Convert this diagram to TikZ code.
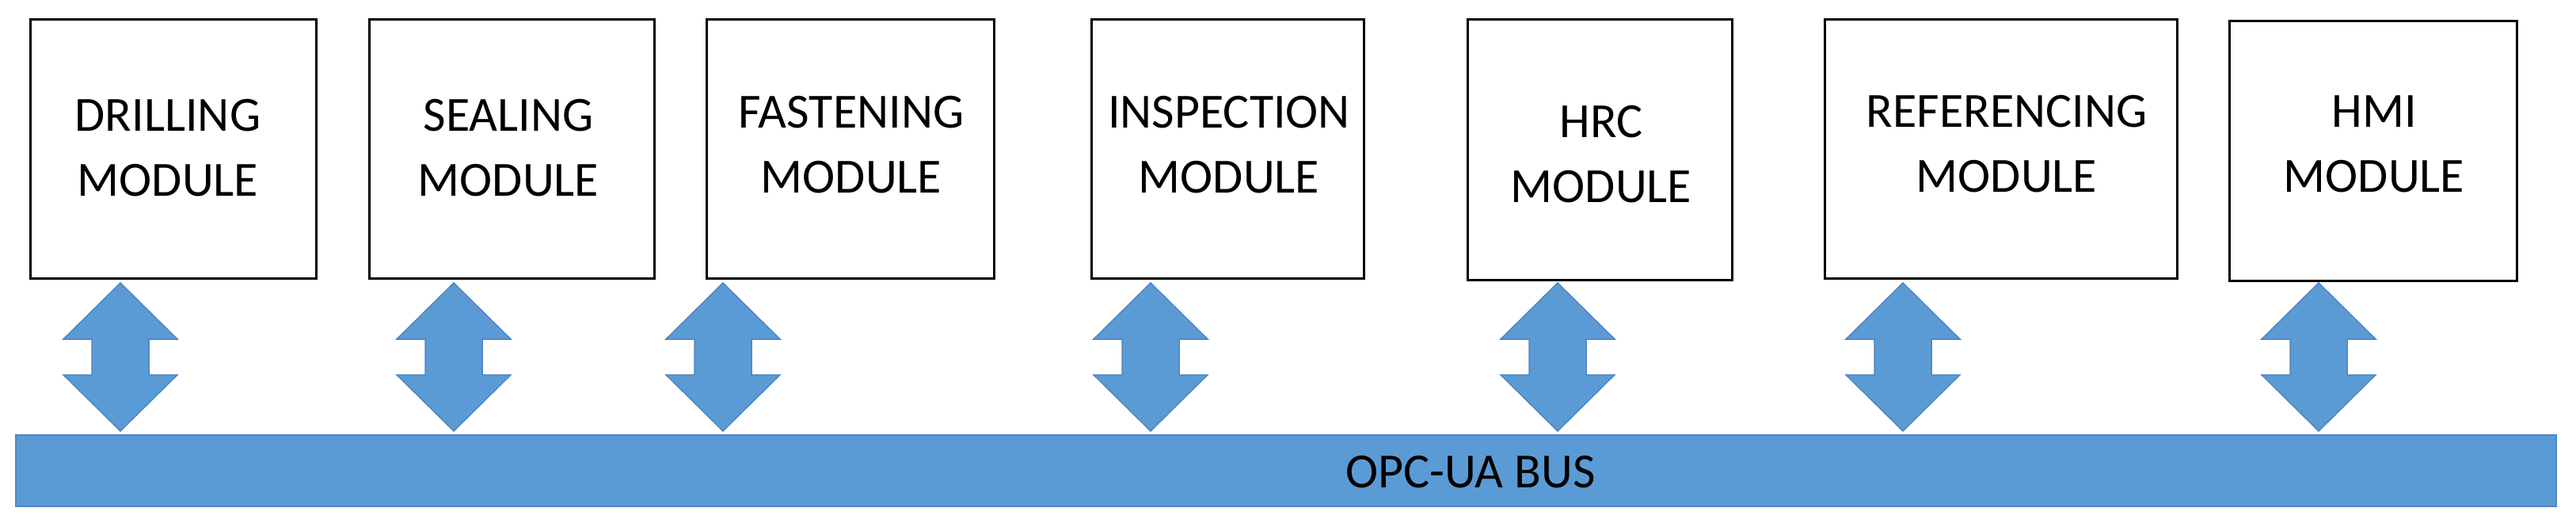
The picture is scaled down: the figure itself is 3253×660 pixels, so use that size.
\documentclass[tikz,border=0pt]{standalone}
\usepackage{fontspec}
\setmainfont{Carlito}
\begin{document}
\begin{tikzpicture}[x=1pt,y=-1pt,
  box/.style={draw=black,line width=3pt,fill=white},
  lbl/.style={align=center,font=\fontsize{62}{82}\selectfont,inner sep=0pt},
  dbl/.style={fill=arrowblue,draw=arrowedge,line width=1.5pt}]
\definecolor{arrowblue}{HTML}{5B9BD5}
\definecolor{arrowedge}{HTML}{4F86C0}
\useasboundingbox (0,0) rectangle (3253,660);
\fill[white] (0,0) rectangle (3253,660);
% boxes
\draw[box] (38,25) rectangle (399,351);
\draw[box] (466,25) rectangle (826,351);
\draw[box] (892,25) rectangle (1255,351);
\draw[box] (1378,25) rectangle (1722,351);
\draw[box] (1853,25) rectangle (2187,353);
\draw[box] (2304,25) rectangle (2749,351);
\draw[box] (2815,27) rectangle (3178,354);
\node[lbl] (t1) at (212,187) {DRILLING\\MODULE};
\node[lbl] (t2) at (642,187) {SEALING\\MODULE};
\node[lbl] (t3) at (1075,183) {FASTENING\\MODULE};
\node[lbl] (t4) at (1552,183) {INSPECTION\\MODULE};
\node[lbl] (t5) at (2022,195) {HRC\\MODULE};
\node[lbl] (t6) at (2534,182) {REFERENCING\\MODULE};
\node[lbl] (t7) at (2998,182) {HMI\\MODULE};
% bus
\fill[arrowblue,draw=arrowedge,line width=1.5pt] (20,549) rectangle (3228,639);
\node[lbl] (bus) at (1857,596) {OPC-UA BUS};
% double arrows
\foreach \cx/\nm in {152/a1,573/a2,913/a3,1453/a4,1967/a5,2403/a6,2928/a7}{
  \draw[dbl] (\cx,357) -- (\cx+72,428) -- (\cx+36,428) -- (\cx+36,473) -- (\cx+72,473)
    -- (\cx,544) -- (\cx-72,473) -- (\cx-36,473) -- (\cx-36,428) -- (\cx-72,428) -- cycle;
}
\end{tikzpicture}
\end{document}
